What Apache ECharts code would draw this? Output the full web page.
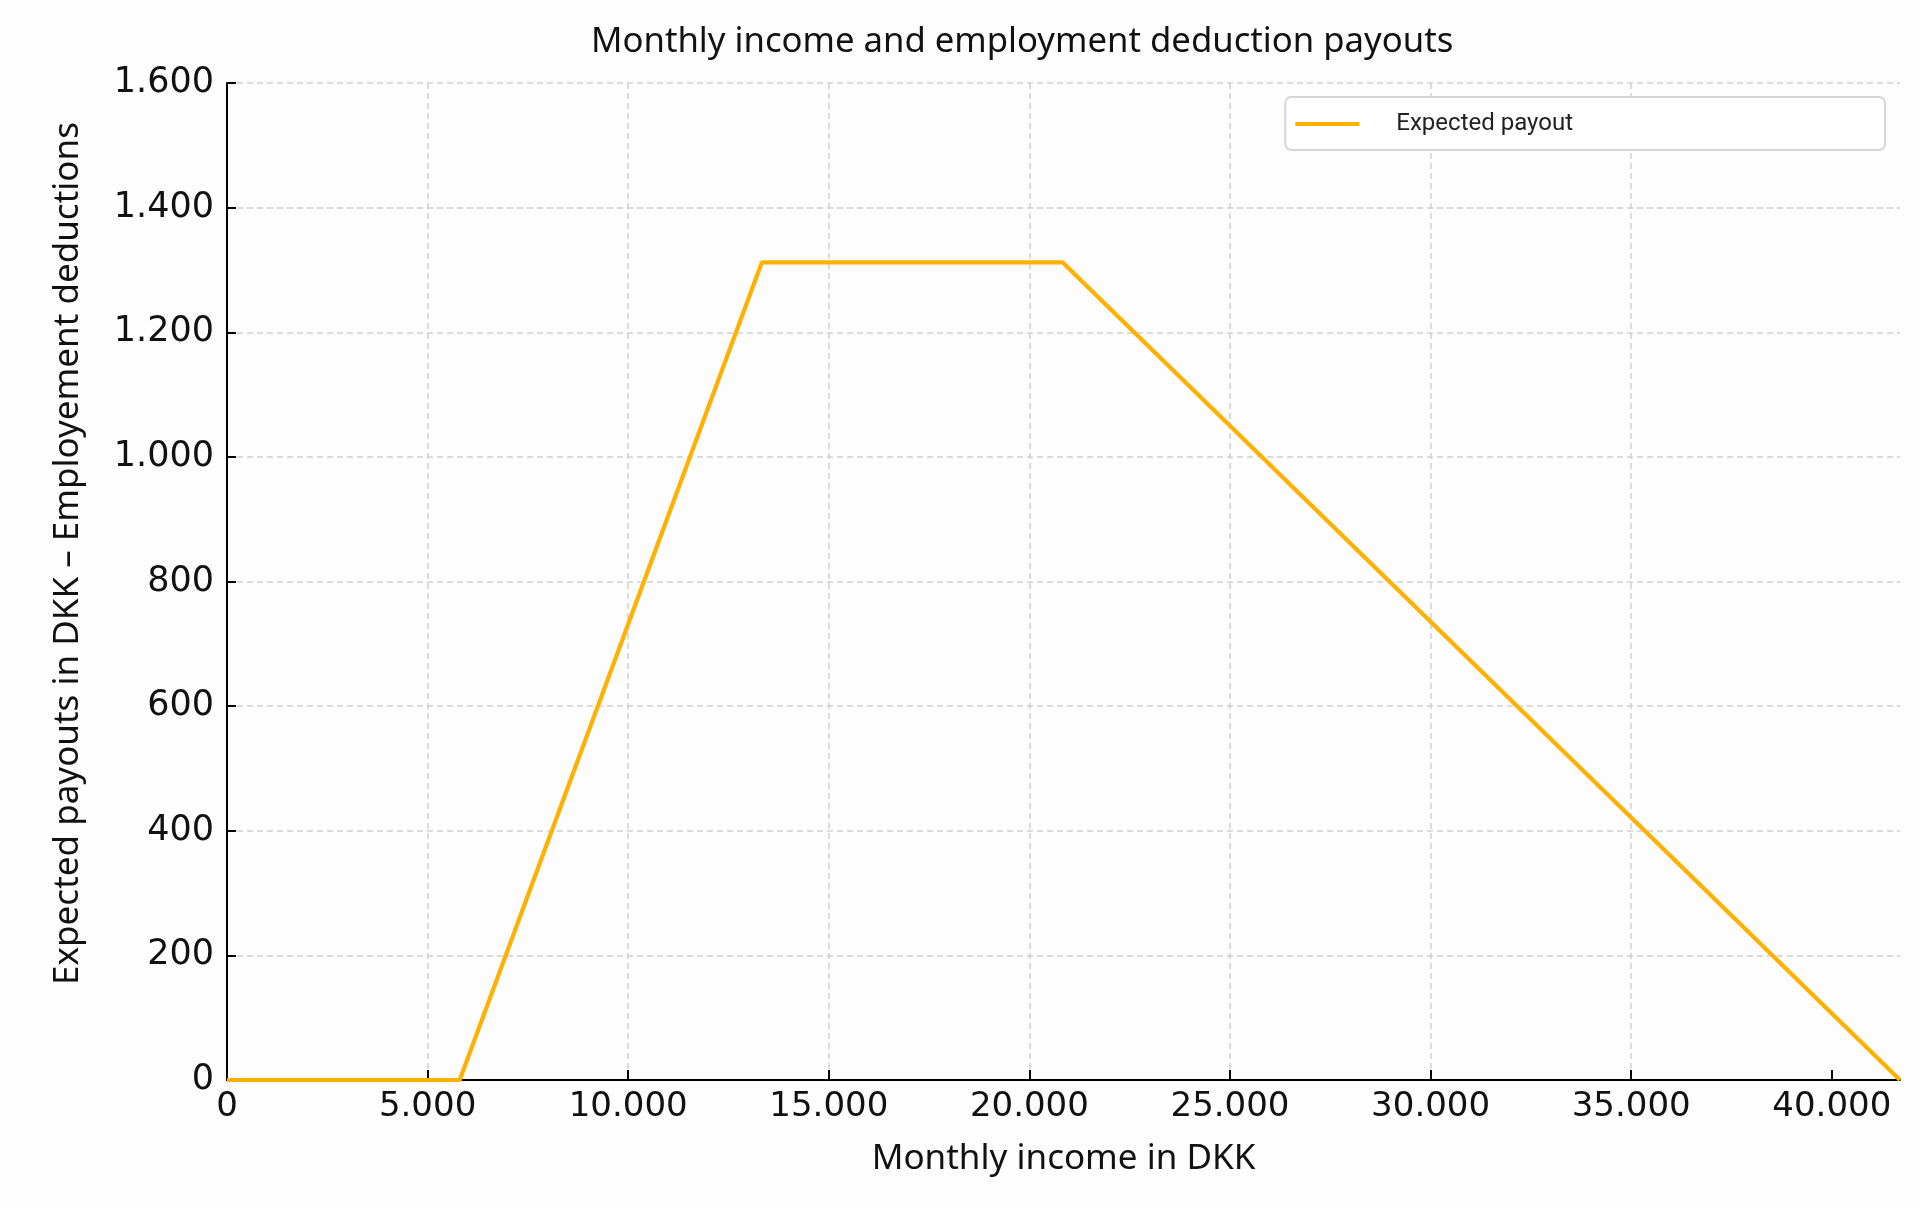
<!DOCTYPE html>
<html>
<head>
<meta charset="utf-8">
<script src="https://cdn.jsdelivr.net/npm/echarts@6/dist/echarts.min.js"></script>
<style>
html,body{margin:0;padding:0;background:#fdfdfd;}
#chart{width:1920px;height:1208px;}
</style>
</head>
<body>
<div id="chart"></div>
<script>
const incomeDKK = [0, 5800, 13330, 20830, 41700];
const payoutDKK = [0, 0, 1312, 1312, 0];
const xTickValues = [0, 5000, 10000, 15000, 20000, 25000, 30000, 35000, 40000];
const titleText = 'Monthly income and employment deduction payouts';
const xName = 'Monthly income in DKK';
const yName = 'Expected payouts in DKK – Employement deductions';
const seriesName = 'Expected payout';

function fmt(v) {
  return String(v).replace(/\B(?=(\d{3})+(?!\d))/g, '.');
}

const chart = echarts.init(document.getElementById('chart'));
const gridColor = '#cfcfcf';
const lineColor = '#ffb000';
chart.setOption({
  backgroundColor: '#fdfdfd',
  animation: false,
  title: {
    text: titleText,
    left: 586,
    top: 20,
    textStyle: { fontFamily: 'Noto Sans', fontWeight: 'normal', fontSize: 34.7, color: '#111' }
  },
  legend: {
    data: [{ name: seriesName, icon: 'rect' }],
    right: 35,
    top: 97,
    orient: 'vertical',
    itemWidth: 64,
    itemHeight: 4,
    padding: [15, 312, 14, 10],
    borderColor: '#d6d6d6',
    borderWidth: 2,
    borderRadius: 6,
    backgroundColor: '#ffffff',
    itemStyle: { color: lineColor },
    textStyle: { fontFamily: 'Roboto', fontSize: 24, color: '#222', padding: [0, 0, 0, 32] }
  },
  grid: { left: 227, right: 20, top: 83, bottom: 128, containLabel: false },
  xAxis: {
    type: 'value',
    min: 0,
    max: 41700,
    interval: 5000,
    name: xName,
    nameLocation: 'middle',
    nameGap: 62,
    nameTextStyle: { fontFamily: 'Noto Sans', fontSize: 35, color: '#111' },
    axisLine: { show: true, onZero: false, lineStyle: { color: '#000', width: 2 } },
    axisTick: { show: true, inside: true, length: 10, lineStyle: { color: '#000', width: 2 }, customValues: xTickValues },
    axisLabel: { customValues: xTickValues, formatter: fmt, margin: 10, fontFamily: 'DejaVu Sans', fontSize: 34, color: '#111' },
    splitLine: { show: true, showMinLine: false, showMaxLine: false, lineStyle: { color: gridColor, width: 1.5, type: [6, 4] } }
  },
  yAxis: {
    type: 'value',
    min: 0,
    max: 1600,
    interval: 200,
    name: yName,
    nameLocation: 'middle',
    nameGap: 141,
    nameTextStyle: { fontFamily: 'Noto Sans', fontSize: 35, color: '#111', padding: [0, 0, 0, 56] },
    axisLine: { show: true, lineStyle: { color: '#000', width: 2 } },
    axisTick: { show: true, inside: true, length: 9, lineStyle: { color: '#000', width: 2 } },
    axisLabel: { formatter: fmt, margin: 13, fontFamily: 'DejaVu Sans', fontSize: 35, color: '#111' },
    splitLine: { show: true, showMinLine: false, lineStyle: { color: gridColor, width: 1.5, type: [6, 4] } }
  },
  series: [{
    name: seriesName,
    type: 'line',
    data: incomeDKK.map((x, i) => [x, payoutDKK[i]]),
    showSymbol: false,
    symbol: 'none',
    clip: false,
    lineStyle: { color: lineColor, width: 4.2 },
    itemStyle: { color: lineColor },
    z: 3
  }]
});
</script>
</body>
</html>
